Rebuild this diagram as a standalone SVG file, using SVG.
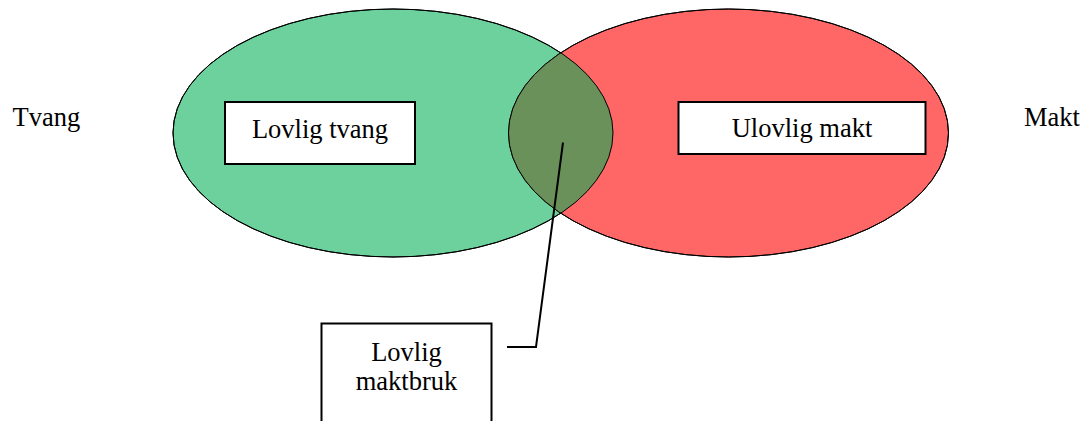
<svg xmlns="http://www.w3.org/2000/svg" width="1091" height="421" viewBox="0 0 1091 421">
<style>
text{font-family:"Liberation Serif","Times New Roman",serif;font-size:26.5px;fill:#000}
.box{fill:#fff;stroke:#000;stroke-width:2}
.ell{stroke:#000;stroke-width:1}
</style>
<defs>
<clipPath id="clipGreen"><ellipse cx="393" cy="133" rx="220" ry="124"/></clipPath>
</defs>
<rect width="1091" height="421" fill="#fff"/>
<g id="set-tvang">
<ellipse class="ell" cx="393" cy="133" rx="220" ry="124" fill="#6CD19C"/>
</g>
<g id="set-makt">
<ellipse class="ell" cx="728.5" cy="133" rx="220" ry="124" fill="#FF6666"/>
</g>
<g id="overlap">
<ellipse cx="728.5" cy="133" rx="220" ry="124" fill="#6B915A" clip-path="url(#clipGreen)"/>
<ellipse cx="393" cy="133" rx="220" ry="124" fill="none" stroke="#000" stroke-width="1"/>
<ellipse cx="728.5" cy="133" rx="220" ry="124" fill="none" stroke="#000" stroke-width="1"/>
</g>
<g id="label-tvang"><text x="12.5" y="126">Tvang</text></g>
<g id="label-makt"><text x="1024" y="126">Makt</text></g>
<g id="node-lovlig-tvang">
<rect class="box" x="225" y="102" width="190" height="62"/>
<text x="320" y="138" text-anchor="middle">Lovlig tvang</text>
</g>
<g id="node-ulovlig-makt">
<rect class="box" x="678.5" y="102" width="247" height="52"/>
<text x="802" y="137" text-anchor="middle">Ulovlig makt</text>
</g>
<g id="node-lovlig-maktbruk">
<rect class="box" x="321.5" y="323.5" width="170" height="110"/>
<text x="406.5" y="361" text-anchor="middle">Lovlig</text>
<text x="406.5" y="390" text-anchor="middle">maktbruk</text>
</g>
<g id="connectors">
<path d="M563,142.5 L536,347 L507,347" fill="none" stroke="#000" stroke-width="2"/>
</g>
</svg>
